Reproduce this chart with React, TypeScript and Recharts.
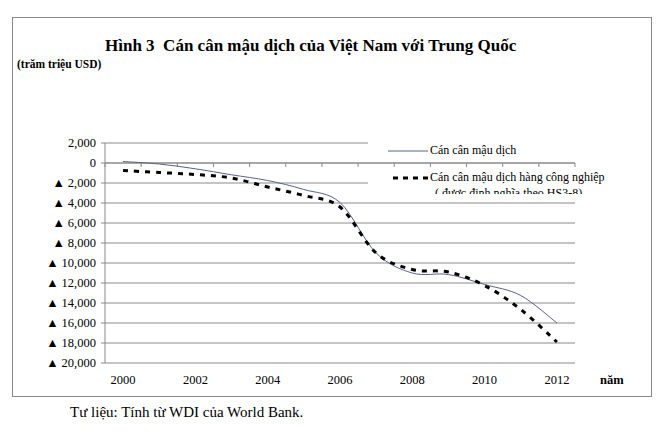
import React from "react";
import {LineChart, Line, XAxis, YAxis, CartesianGrid, ReferenceLine, Legend} from "recharts";

const years = [2000, 2001, 2002, 2003, 2004, 2005, 2006, 2007, 2008, 2009, 2010, 2011, 2012];
const tradeBalance = [150, -100, -580, -1180, -1750, -2650, -3950, -9000, -11000, -11150, -12150, -13250, -16000];
const industrialBalance = [-750, -950, -1150, -1500, -2400, -3250, -4400, -9000, -10650, -10900, -12250, -14650, -17900];

const xTicks = [2000, 2002, 2004, 2006, 2008, 2010, 2012];
const yTicks = [2000, 0, -2000, -4000, -6000, -8000, -10000, -12000, -14000, -16000, -18000, -20000];

const title = "Hình 3  Cán cân mậu dịch của Việt Nam với Trung Quốc";
const unitLabel = "(trăm triệu USD)";
const xLabel = "năm";
const source = "Tư liệu: Tính từ WDI của World Bank.";
const seriesNames = ["Cán cân mậu dịch", "Cán cân mậu dịch hàng công nghiệp"];
const seriesNote = "( được định nghĩa theo HS3-8)";

const data = years.map((year, i) => ({
    year,
    trade: tradeBalance[i],
    industrial: industrialBalance[i],
}));

// tick marks on the zero line sit between the years
const bandEdges = [years[0] - 0.5, ...years.map(y => y + 0.5)];

const SERIF = "'Liberation Serif', 'Times New Roman', serif";
const GRID = "#8a8a8a";
const SOLID = "#56648a";

// spreadsheet-style smoothed line (catmull-rom as bezier)
const smoothCurve = (context: any) => {
    let pts: number[][] = [];
    return {
        areaStart() {},
        areaEnd() {},
        lineStart() { pts = []; },
        point(x: number, y: number) { pts.push([+x, +y]); },
        lineEnd() {
            if (!pts.length) return;
            context.moveTo(pts[0][0], pts[0][1]);
            for (let i = 0; i < pts.length - 1; i++) {
                const p0 = pts[i - 1] || pts[i];
                const p1 = pts[i];
                const p2 = pts[i + 1];
                const p3 = pts[i + 2] || p2;
                context.bezierCurveTo(
                    p1[0] + (p2[0] - p0[0]) / 6, p1[1] + (p2[1] - p0[1]) / 6,
                    p2[0] - (p3[0] - p1[0]) / 6, p2[1] - (p3[1] - p1[1]) / 6,
                    p2[0], p2[1]);
            }
        },
    };
};

const formatY = (v: number) => {
    if (v === 0) return "0";
    const s = Math.abs(v).toLocaleString("en-US");
    return v < 0 ? `▲ ${s}` : s;
};

const LegendBox = () => (
    <div style={{fontFamily: SERIF, fontSize: 12, color: "#000", width: 260, position: "relative", height: 60}}>
        <div style={{position: "absolute", left: 0, top: 0, width: 260, height: 22, background: "#fff"}}>
            <svg width={44} height={22} style={{position: "absolute", left: 18, top: 0}}>
                <line x1={2} y1={13} x2={42} y2={13} stroke={SOLID} strokeWidth={1}/>
            </svg>
            <span style={{position: "absolute", left: 62, top: 5, whiteSpace: "nowrap"}}>{seriesNames[0]}</span>
        </div>
        <div style={{position: "absolute", left: 0, top: 30, width: 260, height: 26, background: "#fff", overflow: "hidden"}}>
            <svg width={44} height={22} style={{position: "absolute", left: 18, top: 0}}>
                <line x1={7} y1={10} x2={42} y2={10} stroke="#000" strokeWidth={3} strokeDasharray="5 5"/>
            </svg>
            <span style={{position: "absolute", left: 62, top: 2, whiteSpace: "nowrap"}}>{seriesNames[1]}</span>
            <span style={{position: "absolute", left: 67, top: 18, whiteSpace: "nowrap"}}>{seriesNote}</span>
        </div>
    </div>
);

export default function App() {
    return (
        <div style={{position: "absolute", left: 0, top: 0, width: 665, height: 434, background: "#fff"}}>
            <div style={{position: "absolute", left: 12, top: 17, width: 638, height: 378, border: `1.5px solid ${GRID}`}}/>
            <div style={{position: "absolute", left: 105, top: 36, fontFamily: SERIF, fontWeight: "bold", fontSize: 17, whiteSpace: "pre"}}>
                {title}
            </div>
            <div style={{position: "absolute", left: 17, top: 58, fontFamily: SERIF, fontWeight: "bold", fontSize: 11.5, whiteSpace: "nowrap"}}>
                {unitLabel}
            </div>
            <div style={{position: "absolute", left: 600, top: 373, fontFamily: SERIF, fontWeight: "bold", fontSize: 12.5}}>
                {xLabel}
            </div>
            <div style={{position: "absolute", left: 70, top: 404, fontFamily: SERIF, fontSize: 15, whiteSpace: "nowrap"}}>
                {source}
            </div>
            <div style={{position: "absolute", left: 0, top: 0}}>
                <LineChart width={665} height={434} data={data}
                           margin={{top: 143, right: 90, bottom: 41, left: 15}}>
                    <CartesianGrid vertical={false} stroke={GRID} strokeWidth={1}/>
                    <XAxis dataKey="year" type="number" domain={[1999.5, 2012.5]} ticks={xTicks}
                           axisLine={false} tickLine={false} tickMargin={6} height={30}
                           tick={{fontFamily: SERIF, fontSize: 12.5, fill: "#000"}}/>
                    <YAxis domain={[-20000, 2000]} ticks={yTicks} interval={0} width={90}
                           axisLine={{stroke: GRID}} tickLine={{stroke: GRID}} tickSize={4} tickMargin={5}
                           tickFormatter={formatY}
                           tick={{fontFamily: SERIF, fontSize: 12.5, fill: "#000"}}/>
                    <ReferenceLine y={0} stroke={GRID} strokeWidth={1}/>
                    {bandEdges.map(x => (
                        <ReferenceLine key={x} stroke={GRID} strokeWidth={1}
                                       segment={[{x, y: 0}, {x, y: -400}]}/>
                    ))}
                    <Legend layout="horizontal" verticalAlign="middle" align="center"
                            wrapperStyle={{left: 368, top: 138, width: 260, height: 60}}
                            content={() => <LegendBox/>}/>
                    <Line type={smoothCurve as any} dataKey="trade" name={seriesNames[0]} stroke={SOLID}
                          strokeWidth={1} dot={false} isAnimationActive={false}/>
                    <Line type={smoothCurve as any} dataKey="industrial" name={seriesNames[1]} stroke="#000"
                          strokeWidth={3} strokeDasharray="5 6" dot={false} isAnimationActive={false}/>
                </LineChart>
            </div>
        </div>
    );
}
